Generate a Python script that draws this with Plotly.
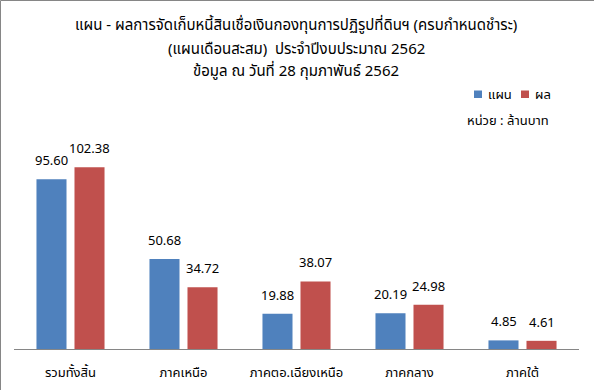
import plotly.graph_objects as go

categories = ["รวมทั้งสิ้น", "ภาคเหนือ", "ภาคตอ.เฉียงเหนือ", "ภาคกลาง", "ภาคใต้"]
plan = [95.60, 50.68, 19.88, 20.19, 4.85]
actual = [102.38, 34.72, 38.07, 24.98, 4.61]
plan_labels = ["95.60", "50.68", "19.88", "20.19", "4.85"]
actual_labels = ["102.38", "34.72", "38.07", "24.98", "4.61"]
series_names = ["แผน", "ผล"]
colors = ["#4F81BD", "#C0504D"]
title_lines = ["แผน - ผลการจัดเก็บหนี้สินเชื่อเงินกองทุนการปฏิรูปที่ดินฯ (ครบกำหนดชำระ)",
               "(แผนเดือนสะสม)  ประจำปีงบประมาณ 2562",
               "ข้อมูล ณ วันที่ 28 กุมภาพันธ์ 2562"]
unit_text = "หน่วย : ล้านบาท"

FONT = "Tahoma, Noto Sans Thai, Noto Sans, DejaVu Sans, sans-serif"
W, H = 594, 390
L, R, T, B = 14, 15, 136, 41
PW, PH = W - L - R, H - T - B


def px(x):
    return (x - L) / PW


def py(y):
    return (H - B - y) / PH


fig = go.Figure()
annotations = []
for (vals, labs, name, col), shift in zip(
        [(plan, plan_labels, series_names[0], colors[0]),
         (actual, actual_labels, series_names[1], colors[1])], [-19, 19]):
    fig.add_trace(go.Bar(x=categories, y=vals, name=name, marker_color=col,
                         marker_line_width=0, hoverinfo="x+y"))
    for c, v, t in zip(categories, vals, labs):
        annotations.append(dict(text=t, x=c, y=v, xref="x", yref="y", xshift=shift,
                                yshift=6, xanchor="center", yanchor="bottom",
                                showarrow=False,
                                font=dict(size=13, family=FONT, color="#000000")))

for line, yy in zip(title_lines, [25, 49, 71]):
    annotations.append(dict(text=line, xref="paper", yref="paper", x=px(296), y=py(yy),
                            xanchor="center", yanchor="middle", showarrow=False,
                            font=dict(size=15, family=FONT, color="#000000")))
annotations.append(dict(text=unit_text, xref="paper", yref="paper", x=px(551), y=py(121),
                        xanchor="right", yanchor="middle", showarrow=False,
                        font=dict(size=13, family=FONT, color="#000000")))
shapes = [
    dict(type="line", xref="paper", yref="paper", x0=px(0.5), x1=px(594),
         y0=py(0.5), y1=py(0.5), line=dict(color="#868686", width=1)),
    dict(type="line", xref="paper", yref="paper", x0=px(0.5), x1=px(0.5),
         y0=py(0.5), y1=py(390), line=dict(color="#868686", width=1)),
]
for (x0, x1, tx), name, col in zip([(474, 482, 486), (521, 529, 533)], series_names, colors):
    shapes.append(dict(type="rect", xref="paper", yref="paper", x0=px(x0), x1=px(x1),
                       y0=py(98), y1=py(90.5), fillcolor=col, line=dict(width=0)))
    annotations.append(dict(text=name, xref="paper", yref="paper", x=px(tx), y=py(95),
                            xanchor="left", yanchor="middle", showarrow=False,
                            font=dict(size=13, family=FONT, color="#000000")))

fig.update_layout(
    width=W, height=H,
    margin=dict(l=L, r=R, t=T, b=B, autoexpand=False),
    paper_bgcolor="white", plot_bgcolor="white",
    font=dict(family=FONT, size=12, color="#000000"),
    barmode="group", bargap=0.327, bargroupgap=0.21,
    showlegend=False,
    xaxis=dict(showline=True, linecolor="#868686", linewidth=1, ticks="",
               tickfont=dict(size=13), showgrid=False, automargin=False,
               ticklabelstandoff=11),
    yaxis=dict(range=[0, 120], visible=False, showgrid=False, automargin=False),
    shapes=shapes,
    annotations=annotations,
)

fig.write_html("out.html", config={"displayModeBar": False},
               post_script="document.body.style.margin='0';document.body.style.padding='0';")
